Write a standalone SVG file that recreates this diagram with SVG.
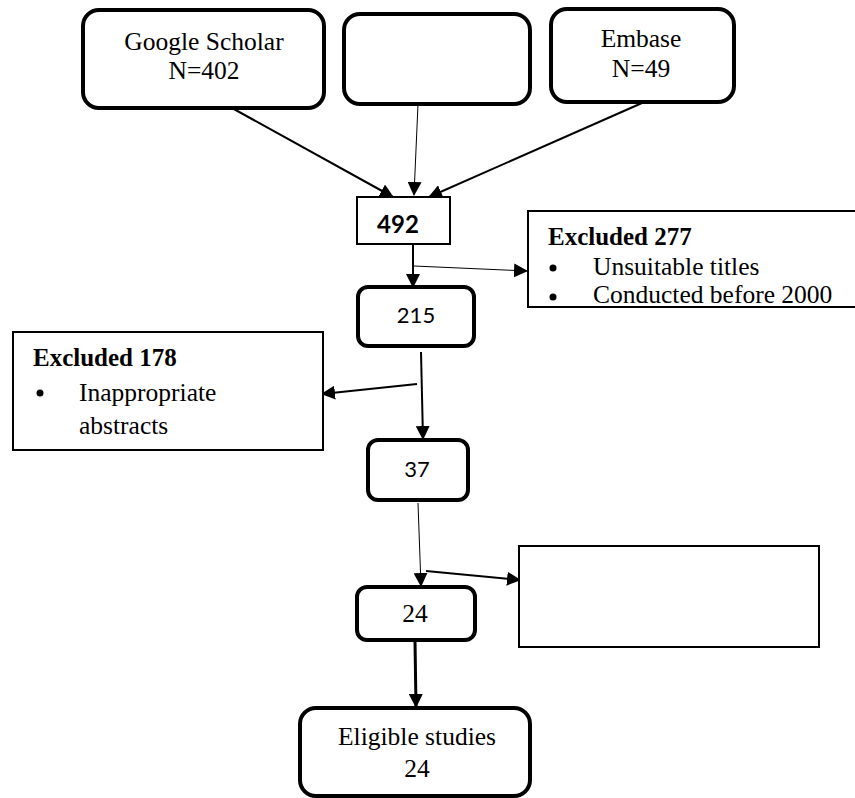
<svg xmlns="http://www.w3.org/2000/svg" width="855" height="798" viewBox="0 0 855 798">
<style>
.rb{fill:#fff;stroke:#000;stroke-width:4}
.sb{fill:#fff;stroke:#000;stroke-width:2}
.t{font-family:"Liberation Serif",serif;font-size:25.5px;fill:#000}
.tb{font-family:"Liberation Serif",serif;font-size:25px;font-weight:bold;fill:#000}
.c{font-family:Lato,"Open Sans",sans-serif;font-size:22px;fill:#000}
.cb{font-family:Lato,"Open Sans",sans-serif;font-size:24px;font-weight:bold;fill:#000}
.l{stroke:#000;fill:none}
</style>
<defs>
<marker id="ah" markerUnits="userSpaceOnUse" markerWidth="14" markerHeight="14" viewBox="0 0 14 14" refX="13" refY="7" orient="auto">
<path d="M0,0 L14,7 L0,14 Z" fill="#000"/>
</marker>
</defs>
<g id="connectors">
<line class="l" stroke-width="2" x1="232" y1="108" x2="393" y2="197" marker-end="url(#ah)"/>
<line class="l" stroke-width="1" x1="418" y1="104" x2="414" y2="195" marker-end="url(#ah)"/>
<line class="l" stroke-width="2" x1="642" y1="103" x2="429" y2="197" marker-end="url(#ah)"/>
<line class="l" stroke-width="2" x1="413" y1="245" x2="413" y2="287" marker-end="url(#ah)"/>
<line class="l" stroke-width="1" x1="414" y1="266" x2="527" y2="271" marker-end="url(#ah)"/>
<line class="l" stroke-width="2" x1="421" y1="352" x2="423" y2="439" marker-end="url(#ah)"/>
<line class="l" stroke-width="2" x1="417" y1="384" x2="322" y2="394" marker-end="url(#ah)"/>
<line class="l" stroke-width="1" x1="418" y1="503" x2="421" y2="586" marker-end="url(#ah)"/>
<line class="l" stroke-width="2" x1="426" y1="571" x2="520" y2="580" marker-end="url(#ah)"/>
<line class="l" stroke-width="3" x1="415" y1="641" x2="416" y2="707" marker-end="url(#ah)"/>
</g>
<g id="google">
<rect class="rb" x="83" y="10" width="241" height="98" rx="16"/>
<text class="t" x="204" y="50" text-anchor="middle">Google Scholar</text>
<text class="t" x="204" y="79" text-anchor="middle">N=402</text>
</g>
<g id="middle">
<rect class="rb" x="344" y="14" width="186" height="90" rx="16"/>
</g>
<g id="embase">
<rect class="rb" x="551" y="9" width="183" height="93" rx="16"/>
<text class="t" x="641" y="47" text-anchor="middle">Embase</text>
<text class="t" x="641" y="77" text-anchor="middle">N=49</text>
</g>
<g id="n492">
<rect class="sb" x="357" y="197" width="93" height="47"/>
<text class="cb" x="398" y="233" text-anchor="middle">492</text>
</g>
<g id="excl277">
<rect class="sb" x="528" y="211" width="340" height="96"/>
<text class="tb" x="548" y="245">Excluded 277</text>
<circle cx="553" cy="268" r="3.5"/>
<text class="t" x="593" y="275">Unsuitable titles</text>
<circle cx="553" cy="297" r="3.5"/>
<text class="t" x="593" y="303">Conducted before 2000</text>
</g>
<g id="n215">
<rect class="rb" x="358" y="287" width="116" height="59" rx="10"/>
<text class="c" x="416" y="323" text-anchor="middle">215</text>
</g>
<g id="excl178">
<rect class="sb" x="13" y="332" width="310" height="118"/>
<text class="tb" x="33" y="366">Excluded 178</text>
<circle cx="40" cy="393" r="3.5"/>
<text class="t" x="79" y="401">Inappropriate</text>
<text class="t" x="79" y="434">abstracts</text>
</g>
<g id="n37">
<rect class="rb" x="368" y="440" width="100" height="60" rx="10"/>
<text class="c" x="417" y="477" text-anchor="middle">37</text>
</g>
<g id="emptybox">
<rect class="sb" x="519" y="546" width="300" height="101"/>
</g>
<g id="n24">
<rect class="rb" x="357" y="587" width="118" height="53" rx="10"/>
<text class="t" x="415" y="622" text-anchor="middle">24</text>
</g>
<g id="eligible">
<rect class="rb" x="300" y="708" width="230" height="88" rx="16"/>
<text class="t" x="417" y="745" text-anchor="middle">Eligible studies</text>
<text class="t" x="417" y="777" text-anchor="middle">24</text>
</g>
</svg>
